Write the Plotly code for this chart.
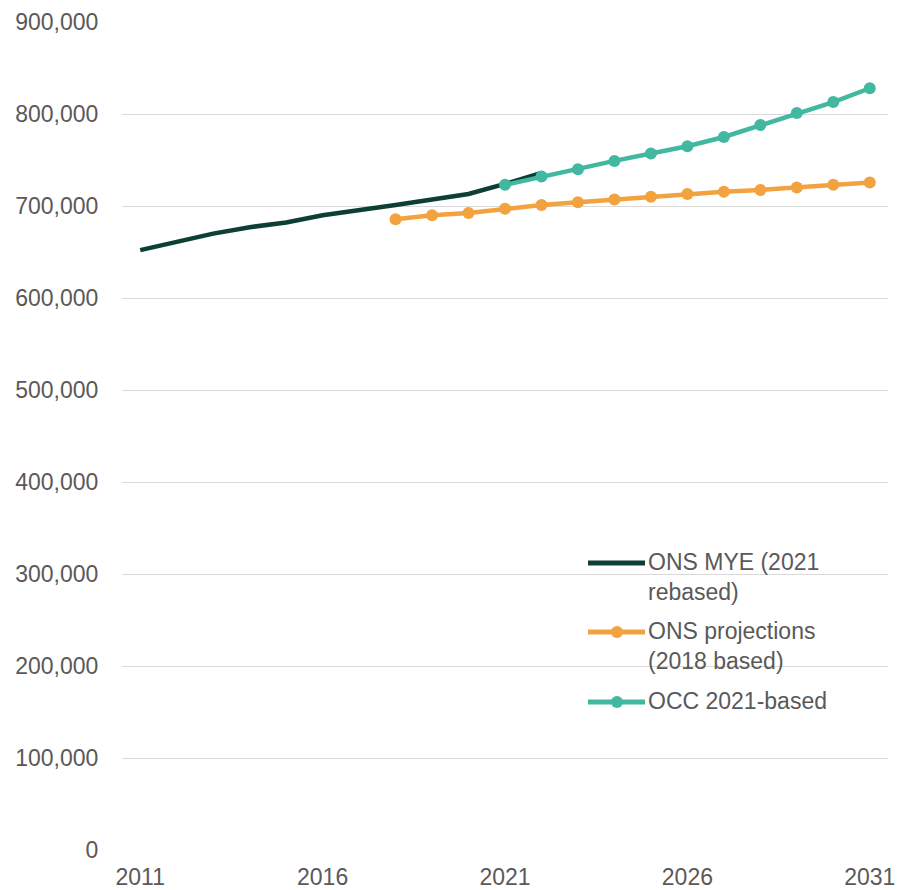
import plotly.graph_objects as go

mye_years = list(range(2011, 2023))
mye_values = [652000, 661000, 670000, 677000, 682000, 690000, 695000, 701000, 707000, 713000, 724000, 736000]

ons_years = list(range(2018, 2032))
ons_values = [685500, 690000, 692500, 697000, 701000, 704000, 707000, 710000, 713000, 715500, 717500, 720000, 723000, 725500]

occ_years = list(range(2021, 2032))
occ_values = [723000, 732000, 740000, 749000, 757000, 765000, 775000, 788000, 801000, 813000, 828000]

x_ticks = [2011, 2016, 2021, 2026, 2031]
y_ticks = [0, 100000, 200000, 300000, 400000, 500000, 600000, 700000, 800000, 900000]

names = ["ONS MYE (2021<br>rebased)", "ONS projections<br>(2018 based)", "OCC 2021-based"]

c_mye = "#0D3F35"
c_ons = "#F2A23E"
c_occ = "#42B8A0"

font = dict(family="Liberation Sans, Arial, sans-serif", size=23, color="#595959")

fig = go.Figure()
fig.add_trace(go.Scatter(x=mye_years, y=mye_values, mode="lines", name=names[0],
                         line=dict(color=c_mye, width=4.5)))
fig.add_trace(go.Scatter(x=ons_years, y=ons_values, mode="lines+markers", name=names[1],
                         line=dict(color=c_ons, width=4.5),
                         marker=dict(color=c_ons, size=12)))
fig.add_trace(go.Scatter(x=occ_years, y=occ_values, mode="lines+markers", name=names[2],
                         line=dict(color=c_occ, width=4.5),
                         marker=dict(color=c_occ, size=12)))

# Manual legend (window pixel positions -> paper coordinates)
PL, PR, PT, PB = 122, 888, 22, 850
def px(x):
    return (x - PL) / (PR - PL)
def py(y):
    return (PB - y) / (PB - PT)

shapes = []
annotations = []
legend_items = [
    (names[0], c_mye, 563, False),
    (names[1], c_ons, 632, True),
    (names[2], c_occ, 702, True),
]
for text, col, yy, has_marker in legend_items:
    shapes.append(dict(type="line", xref="paper", yref="paper",
                       x0=px(588), x1=px(645), y0=py(yy), y1=py(yy),
                       line=dict(color=col, width=5)))
    if has_marker:
        shapes.append(dict(type="circle", xref="paper", yref="paper",
                           x0=px(611), x1=px(623), y0=py(yy + 6), y1=py(yy - 6),
                           fillcolor=col, line=dict(color=col, width=0)))
    annotations.append(dict(xref="paper", yref="paper", x=px(646), y=py(yy - 16),
                            xanchor="left", yanchor="top", align="left",
                            text=text, showarrow=False, font=font))

fig.update_layout(
    width=897, height=890,
    margin=dict(l=122, r=9, t=22, b=40, autoexpand=False),
    paper_bgcolor="white", plot_bgcolor="white",
    font=font,
    showlegend=False,
    shapes=shapes,
    annotations=annotations,
    xaxis=dict(range=[2010.5, 2031.5], tickvals=x_ticks, ticktext=[str(v) for v in x_ticks],
               showgrid=False, zeroline=False, showline=False, automargin=False,
               ticks="outside", ticklen=6, tickcolor="rgba(0,0,0,0)", tickfont=font),
    yaxis=dict(range=[0, 900000], tickvals=y_ticks, tickformat=",d",
               showgrid=True, gridcolor="#D9D9D9", gridwidth=1.3,
               zeroline=False, showline=False, automargin=False,
               ticks="outside", ticklen=18, tickcolor="rgba(0,0,0,0)", tickfont=font),
)

fig.write_html("out.html", config={"displayModeBar": False},
               post_script="document.body.style.margin='0px';document.body.style.overflow='hidden';")
